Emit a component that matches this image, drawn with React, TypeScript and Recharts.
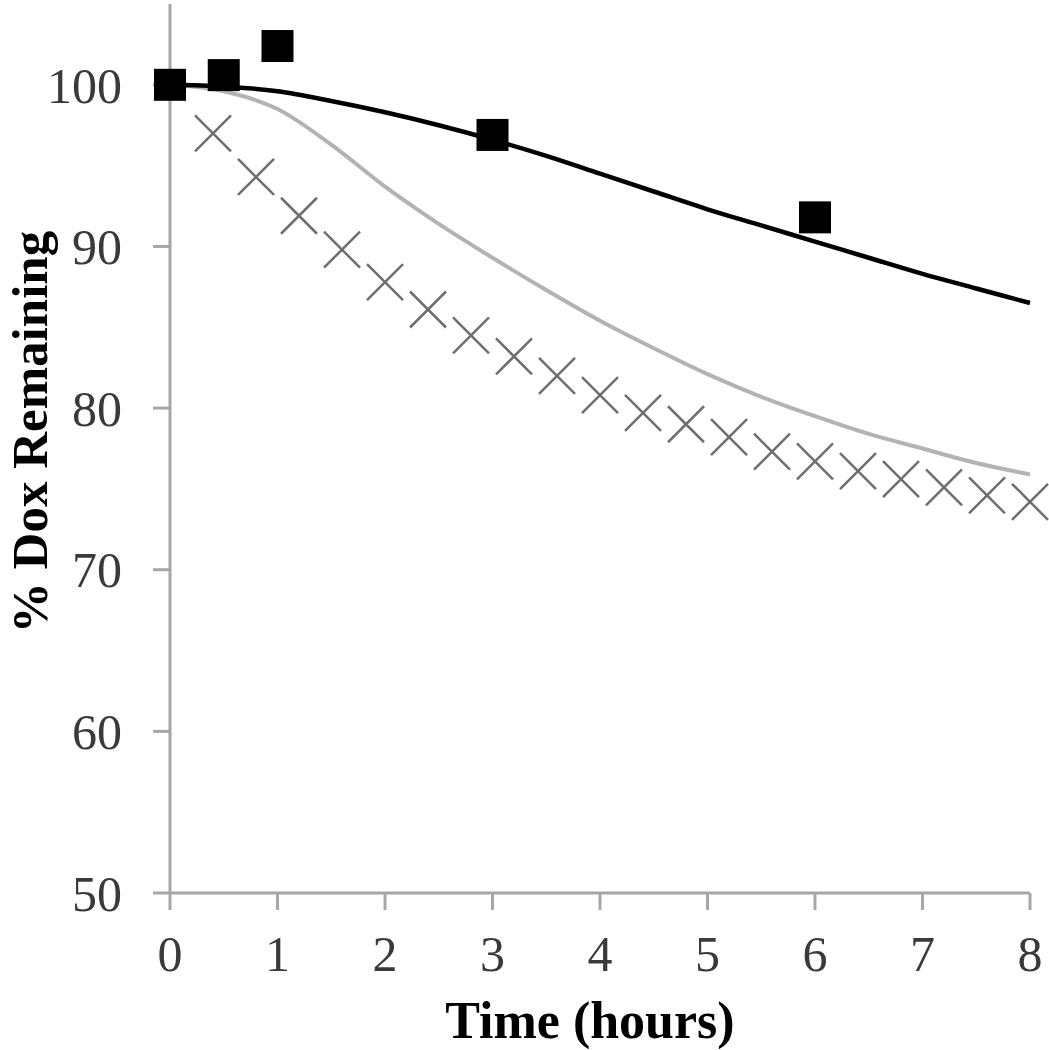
import React from 'react';
import { ComposedChart, Line, Scatter, XAxis, YAxis } from 'recharts';

// measured points (squares)
const squareTimes = [0, 0.5, 1, 3, 6];
const squareValues = [100, 100.6, 102.4, 96.9, 91.8];

// measured points (crosses)
const crossTimes = [0.4, 0.8, 1.2, 1.6, 2.0, 2.4, 2.8, 3.2, 3.6, 4.0, 4.4, 4.8, 5.2, 5.6, 6.0, 6.4, 6.8, 7.2, 7.6, 8.0];
const crossValues = [97.0, 94.3, 91.9, 89.8, 87.8, 86.1, 84.5, 83.2, 82.0, 80.8, 79.7, 79.0, 78.2, 77.3, 76.7, 76.1, 75.6, 75.1, 74.6, 74.2];

// fitted curves
const fitTimes = [0, 0.5, 1, 1.5, 2, 2.5, 3, 3.5, 4, 4.5, 5, 5.5, 6, 6.5, 7, 7.5, 8];
const blackFit = [100, 99.9, 99.6, 99.0, 98.3, 97.5, 96.6, 95.6, 94.5, 93.4, 92.3, 91.3, 90.3, 89.3, 88.3, 87.4, 86.5];
const grayFit = [100, 99.6, 98.5, 96.3, 93.7, 91.4, 89.3, 87.3, 85.4, 83.7, 82.1, 80.7, 79.5, 78.4, 77.5, 76.6, 75.9];

const xTicks = [0, 1, 2, 3, 4, 5, 6, 7, 8];
const yTicks = [50, 60, 70, 80, 90, 100];

const squareData = squareTimes.map((t, i) => ({ t, v: squareValues[i] }));
const crossData = crossTimes.map((t, i) => ({ t, v: crossValues[i] }));
const blackData = fitTimes.map((t, i) => ({ t, v: blackFit[i] }));
const grayData = fitTimes.map((t, i) => ({ t, v: grayFit[i] }));

const serif = '"Liberation Serif", "Times New Roman", serif';
const axisGray = '#a6a6a6';

const SquareMark = (props: any) => {
  const { cx, cy } = props;
  if (cx == null || cy == null) return <g />;
  return <rect x={cx - 16} y={cy - 16} width={32} height={32} fill="#000" />;
};

const CrossMark = (props: any) => {
  const { cx, cy } = props;
  if (cx == null || cy == null) return <g />;
  const h = 18;
  return (
    <g stroke="#6e6e6e" strokeWidth={2.5}>
      <line x1={cx - h} y1={cy - h} x2={cx + h} y2={cy + h} />
      <line x1={cx - h} y1={cy + h} x2={cx + h} y2={cy - h} />
    </g>
  );
};

const YTitle = () => (
  <text
    x={47}
    y={432}
    transform="rotate(-90 47 432)"
    textAnchor="middle"
    fill="#000"
    fontSize={51}
    fontWeight="bold"
    fontFamily={serif}
  >
    % Dox Remaining
  </text>
);

const App: React.FC = () => {
  return (
    <div style={{ position: 'absolute', left: 0, top: 0, background: '#fff' }}>
      <ComposedChart width={1049} height={1050} margin={{ top: 4, right: 19, bottom: 0, left: 0 }}>
        <XAxis
          type="number"
          dataKey="t"
          domain={[0, 8]}
          ticks={xTicks}
          allowDuplicatedCategory={false}
          height={157}
          stroke={axisGray}
          strokeWidth={3}
          tickSize={17}
          tickMargin={25}
          tick={{ fill: '#3a3a3a', fontSize: 50, fontFamily: serif }}
          label={{
            value: 'Time (hours)',
            position: 'insideBottom',
            offset: 12,
            dx: -10,
            style: { fill: '#000', fontSize: 52, fontWeight: 'bold', fontFamily: serif },
          }}
        />
        <YAxis
          type="number"
          dataKey="v"
          domain={[50, 105]}
          ticks={yTicks}
          width={170}
          stroke={axisGray}
          strokeWidth={3}
          tickSize={17}
          tickMargin={31}
          tick={{ fill: '#3a3a3a', fontSize: 50, fontFamily: serif }}
          label={{ content: () => <YTitle /> }}
        />
        <Line
          data={grayData}
          dataKey="v"
          type="monotone"
          stroke="#b3b3b3"
          strokeWidth={4}
          dot={false}
          activeDot={false}
          isAnimationActive={false}
        />
        <Line
          data={blackData}
          dataKey="v"
          type="monotone"
          stroke="#000"
          strokeWidth={4.5}
          dot={false}
          activeDot={false}
          isAnimationActive={false}
        />
        <Scatter data={crossData} dataKey="v" shape={<CrossMark />} isAnimationActive={false} />
        <Scatter data={squareData} dataKey="v" shape={<SquareMark />} isAnimationActive={false} />
      </ComposedChart>
    </div>
  );
};

export default App;
